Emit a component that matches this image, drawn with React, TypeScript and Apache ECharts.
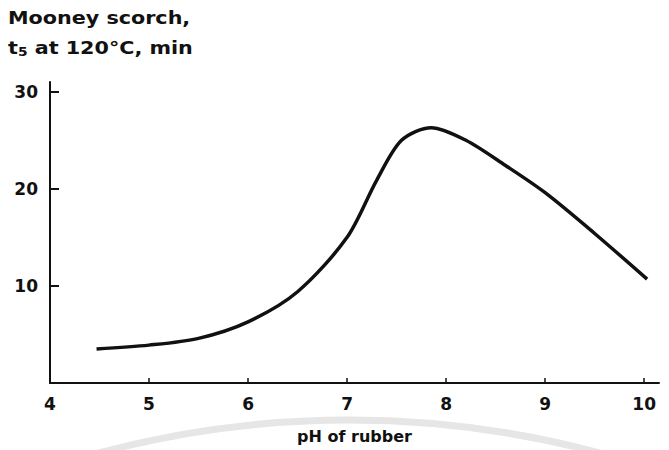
import React, { useEffect, useRef } from "react";
import * as echarts from "echarts";

const xTicks = [4, 5, 6, 7, 8, 9, 10];
const yTicks = [10, 20, 30];
const phValues = [4.47, 5, 5.5, 6, 6.5, 7, 7.3, 7.55, 7.85, 8.2, 8.6, 9, 9.5, 10.03];
const scorchValues = [3.5, 3.9, 4.6, 6.3, 9.4, 15.0, 20.9, 25.0, 26.3, 25.0, 22.4, 19.6, 15.4, 10.7];
const titleLine1 = "Mooney scorch,";
const xAxisName = "pH of rubber";

const INK = "#111";
const FONT = "'DejaVu Sans', sans-serif";

export default function App() {
  const ref = useRef<HTMLDivElement>(null);
  useEffect(() => {
    document.body.style.margin = "0";
    if (!ref.current) return;
    const chart = echarts.init(ref.current, null, { renderer: "svg" });
    const data = phValues.map((x, i) => [x, scorchValues[i]]);
    chart.setOption({
      animation: false,
      backgroundColor: "#fff",
      grid: { left: 50, right: 10, top: 82, bottom: 67 },
      xAxis: {
        type: "value",
        min: 4,
        max: 10.15,
        name: xAxisName,
        nameLocation: "middle",
        nameGap: 45,
        nameTextStyle: { color: INK, fontFamily: FONT, fontWeight: "bold", fontSize: 16 },
        axisLine: { lineStyle: { color: INK, width: 2 } },
        axisTick: { show: true, inside: true, length: 5, customValues: xTicks, lineStyle: { color: INK, width: 1.5 } },
        axisLabel: { customValues: xTicks, color: INK, fontFamily: FONT, fontWeight: "bold", fontSize: 17, margin: 12 },
        splitLine: { show: false },
      },
      yAxis: {
        type: "value",
        min: 0,
        max: 31,
        axisLine: { show: true, lineStyle: { color: INK, width: 2 } },
        axisTick: { show: true, inside: true, length: 9, customValues: yTicks, lineStyle: { color: INK, width: 2 } },
        axisLabel: { customValues: yTicks, color: INK, fontFamily: FONT, fontWeight: "bold", fontSize: 17, margin: 12 },
        splitLine: { show: false },
      },
      graphic: [
        {
          type: "arc",
          silent: true,
          z: -10,
          shape: { cx: 349, cy: 1387, r: 967, startAngle: Math.PI * 1.3, endAngle: Math.PI * 1.7 },
          style: { stroke: "#e6e6e6", lineWidth: 7, fill: null },
        },
        {
          type: "text",
          left: 8,
          top: 9,
          scaleX: 1.15,
          style: { text: titleLine1, fill: INK, font: `bold 18px ${FONT}` },
        },
        {
          type: "text",
          left: 8,
          top: 39,
          scaleX: 1.15,
          style: {
            text: "{a|t}{s|5}{a| at 120°C, min}",
            fill: INK,
            rich: {
              a: { fontFamily: FONT, fontWeight: "bold", fontSize: 18, fill: INK },
              s: { fontFamily: FONT, fontWeight: "bold", fontSize: 12, fill: INK, padding: [8, 0, 0, 0] },
            },
          },
        },
      ],
      series: [
        {
          type: "line",
          data,
          smooth: 0.3,
          showSymbol: false,
          lineStyle: { color: INK, width: 3.5 },
        },
      ],
    });
    return () => chart.dispose();
  }, []);
  return <div ref={ref} style={{ width: 669, height: 450 }} />;
}
